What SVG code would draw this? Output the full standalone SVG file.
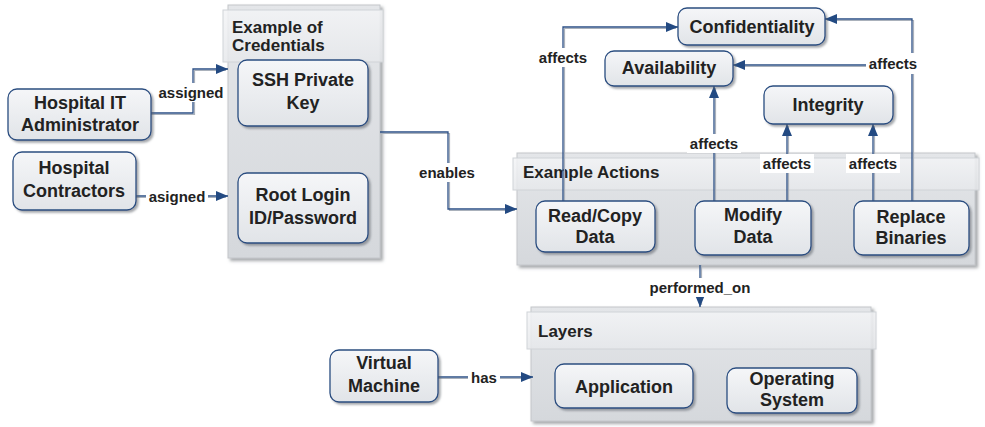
<svg xmlns="http://www.w3.org/2000/svg" width="985" height="427" viewBox="0 0 985 427">
<defs>
  <linearGradient id="nodeGrad" x1="0" y1="0" x2="0" y2="1">
    <stop offset="0" stop-color="#f5f6f8"/>
    <stop offset="1" stop-color="#e1e4e8"/>
  </linearGradient>
  <linearGradient id="contGrad" x1="0" y1="0" x2="0" y2="1">
    <stop offset="0" stop-color="#e4e6e9"/>
    <stop offset="1" stop-color="#d5d8dc"/>
  </linearGradient>
  <linearGradient id="headGrad" x1="0" y1="0" x2="0" y2="1">
    <stop offset="0" stop-color="#f3f4f6"/>
    <stop offset="1" stop-color="#e6e8eb"/>
  </linearGradient>
  <filter id="shadow" x="-10%" y="-10%" width="125%" height="130%">
    <feDropShadow dx="2" dy="2" stdDeviation="1.2" flood-color="#5a5f66" flood-opacity="0.55"/>
  </filter>
  <filter id="cshadow" x="-5%" y="-5%" width="115%" height="115%">
    <feDropShadow dx="2.5" dy="2.5" stdDeviation="1.5" flood-color="#6a6e74" flood-opacity="0.6"/>
  </filter>
  <marker id="arrow" viewBox="0 0 12 10" refX="12" refY="5" markerWidth="12" markerHeight="10" markerUnits="userSpaceOnUse" orient="auto">
    <path d="M0,0 L12,5 L0,10 z" fill="#234a82"/>
  </marker>
  <style>
    .cont{fill:url(#contGrad);stroke:#c3c6ca;stroke-width:1;filter:url(#cshadow)}
    .head{fill:url(#headGrad);fill-opacity:0.85;stroke:#d0d3d7;stroke-width:1}
    .node{fill:url(#nodeGrad);stroke:#2a4d80;stroke-width:1.3;filter:url(#shadow)}
    .t{font-family:"Liberation Sans",Arial,sans-serif;font-weight:bold;font-size:18px;fill:#222;text-anchor:middle}
    .h{font-family:"Liberation Sans",Arial,sans-serif;font-weight:bold;font-size:17px;fill:#222}
    .l{font-family:"Liberation Sans",Arial,sans-serif;font-weight:bold;font-size:15px;fill:#222;text-anchor:middle;dominant-baseline:central}
    .lb{fill:#ffffff}
    .wg{fill:none;stroke:#aab1bb;stroke-width:1.2}
    .wb{fill:none;stroke:#2b4f85;stroke-width:1.3}
  </style>
</defs>

<!-- Containers -->
<g id="credentials">
  <rect class="cont" x="228" y="5" width="152" height="253"/>
  <rect class="head" x="223" y="10" width="160" height="52"/>
  <text class="h" x="232" y="33">Example of</text>
  <text class="h" x="232" y="51">Credentials</text>
</g>
<g id="actions">
  <rect class="cont" x="517" y="153" width="458" height="112"/>
  <rect class="head" x="513" y="158" width="466" height="32"/>
  <text class="h" x="523" y="178">Example Actions</text>
</g>
<g id="layers">
  <rect class="cont" x="531" y="307" width="340" height="114"/>
  <rect class="head" x="527" y="312" width="349" height="37"/>
  <text class="h" x="538" y="337">Layers</text>
</g>

<!-- Connectors -->
<g id="connectors">
  <!-- assigned -->
  <path class="wg" d="M151,114.5 H194.5 V70.5 H226"/>
  <path class="wb" d="M151,113 H193 V69 H228" marker-end="url(#arrow)"/>
  <!-- asigned -->
  <path class="wg" d="M136,197.5 H226"/>
  <path class="wb" d="M136,196 H228" marker-end="url(#arrow)"/>
  <!-- enables -->
  <path class="wg" d="M380,133.5 H449.5 V210.5 H515"/>
  <path class="wb" d="M380,132 H448 V209 H517" marker-end="url(#arrow)"/>
  <!-- Read/Copy -> Confidentiality -->
  <path class="wg" d="M564.5,201 V28.5 H676"/>
  <path class="wb" d="M563,201 V27 H678" marker-end="url(#arrow)"/>
  <!-- Modify -> Availability -->
  <path class="wg" d="M715.5,201 V88"/>
  <path class="wb" d="M714,201 V86" marker-end="url(#arrow)"/>
  <!-- Modify -> Integrity -->
  <path class="wg" d="M788.5,201 V126"/>
  <path class="wb" d="M787,201 V124" marker-end="url(#arrow)"/>
  <!-- Replace -> Integrity -->
  <path class="wg" d="M874.5,201 V126"/>
  <path class="wb" d="M873,201 V124" marker-end="url(#arrow)"/>
  <!-- Replace -> Confidentiality -->
  <path class="wg" d="M913.5,201 V20.5 H827"/>
  <path class="wb" d="M912,201 V19 H825" marker-end="url(#arrow)"/>
  <!-- Replace -> Availability -->
  <path class="wg" d="M912,66.5 H735"/>
  <path class="wb" d="M912,65 H733" marker-end="url(#arrow)"/>
  <!-- performed_on -->
  <path class="wg" d="M701.5,265 V305"/>
  <path class="wb" d="M700,265 V307" marker-end="url(#arrow)"/>
  <!-- has -->
  <path class="wg" d="M438,378.5 H531"/>
  <path class="wb" d="M438,377 H533" marker-end="url(#arrow)"/>

  <!-- labels -->
  <rect class="lb" x="158" y="83" width="66" height="19"/>
  <text class="l" x="191" y="92">assigned</text>
  <rect class="lb" x="146" y="187" width="62" height="19"/>
  <text class="l" x="177" y="196">asigned</text>
  <rect class="lb" x="418" y="163" width="58" height="19"/>
  <text class="l" x="447" y="172">enables</text>
  <rect class="lb" x="536" y="48" width="54" height="19"/>
  <text class="l" x="563" y="57">affects</text>
  <rect class="lb" x="687" y="134" width="54" height="19"/>
  <text class="l" x="714" y="143">affects</text>
  <rect class="lb" x="760" y="154" width="54" height="19"/>
  <text class="l" x="787" y="163">affects</text>
  <rect class="lb" x="846" y="154" width="54" height="19"/>
  <text class="l" x="873" y="163">affects</text>
  <rect class="lb" x="866" y="53" width="54" height="21"/>
  <text class="l" x="893" y="63">affects</text>
  <rect class="lb" x="648" y="278" width="104" height="19"/>
  <text class="l" x="700" y="287">performed_on</text>
  <rect class="lb" x="468" y="368" width="32" height="19"/>
  <text class="l" x="484" y="377">has</text>
</g>

<!-- Nodes -->
<g id="hospital-it">
  <rect class="node" x="8" y="89" width="143" height="51" rx="9"/>
  <text class="t" x="80" y="109">Hospital IT</text>
  <text class="t" x="80" y="131">Administrator</text>
</g>
<g id="hospital-contractors">
  <rect class="node" x="13" y="152" width="123" height="58" rx="9"/>
  <text class="t" x="74" y="174">Hospital</text>
  <text class="t" x="74" y="197">Contractors</text>
</g>
<g id="ssh-key">
  <rect class="node" x="238" y="60" width="130" height="66" rx="9"/>
  <text class="t" x="303" y="86">SSH Private</text>
  <text class="t" x="303" y="109">Key</text>
</g>
<g id="root-login">
  <rect class="node" x="238" y="173" width="130" height="70" rx="9"/>
  <text class="t" x="303" y="201">Root Login</text>
  <text class="t" x="303" y="224">ID/Password</text>
</g>
<g id="confidentiality">
  <rect class="node" x="678" y="8" width="147" height="37" rx="9"/>
  <text class="t" x="752" y="33">Confidentiality</text>
</g>
<g id="availability">
  <rect class="node" x="605" y="51" width="128" height="35" rx="9"/>
  <text class="t" x="669" y="74">Availability</text>
</g>
<g id="integrity">
  <rect class="node" x="764" y="86" width="129" height="38" rx="9"/>
  <text class="t" x="828" y="111">Integrity</text>
</g>
<g id="read-copy">
  <rect class="node" x="536" y="201" width="119" height="51" rx="9"/>
  <text class="t" x="595" y="222">Read/Copy</text>
  <text class="t" x="595" y="243">Data</text>
</g>
<g id="modify-data">
  <rect class="node" x="695" y="201" width="116" height="54" rx="9"/>
  <text class="t" x="753" y="221">Modify</text>
  <text class="t" x="753" y="243">Data</text>
</g>
<g id="replace-binaries">
  <rect class="node" x="854" y="201" width="115" height="54" rx="9"/>
  <text class="t" x="911" y="223">Replace</text>
  <text class="t" x="911" y="244">Binaries</text>
</g>
<g id="virtual-machine">
  <rect class="node" x="330" y="350" width="108" height="52" rx="9"/>
  <text class="t" x="384" y="369">Virtual</text>
  <text class="t" x="384" y="392">Machine</text>
</g>
<g id="application">
  <rect class="node" x="555" y="364" width="138" height="44" rx="9"/>
  <text class="t" x="624" y="393">Application</text>
</g>
<g id="operating-system">
  <rect class="node" x="727" y="368" width="130" height="45" rx="9"/>
  <text class="t" x="792" y="385">Operating</text>
  <text class="t" x="792" y="406">System</text>
</g>
</svg>
